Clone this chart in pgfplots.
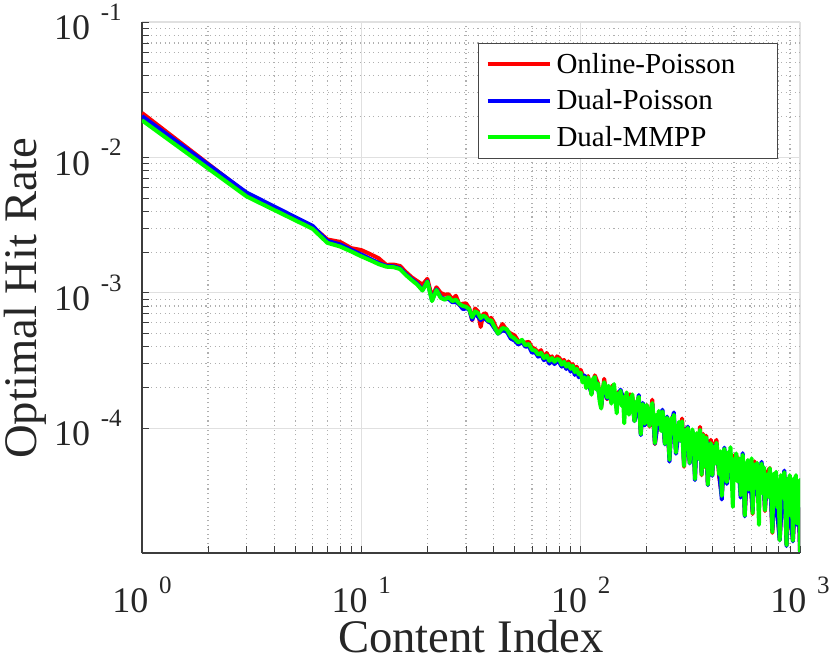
\documentclass[border=0pt]{standalone}
\usepackage{fontspec}
\setmainfont{Liberation Serif}
\usepackage{pgfplots}
\usepackage{pgfplotstable}
\pgfplotsset{compat=1.18}
\definecolor{axcol}{RGB}{60,60,60}
\definecolor{txtcol}{RGB}{38,38,38}
\definecolor{gridmaj}{RGB}{224,224,224}
\definecolor{gridmin}{RGB}{175,175,175}
\definecolor{legcol}{RGB}{70,70,70}
\definecolor{cR}{RGB}{255,0,0}
\definecolor{cB}{RGB}{0,0,255}
\definecolor{cG}{RGB}{0,255,0}
\newcommand{\tl}[1]{10\hspace{0.3em}\raisebox{0.53em}{\fontsize{18.75pt}{20pt}\selectfont #1}}
\newcommand{\legtxt}[1]{\makebox[160.5pt][l]{#1}}

% Online-Poisson (r) and Dual-Poisson (b)
\pgfplotstableread{
x r b
1 2.13e-2 2.02e-2
3 5.42e-3 5.50e-3
6 3.08e-3 3.12e-3
7 2.48e-3 2.42e-3
8 2.38e-3 2.28e-3
9 2.14e-3 2.08e-3
10 2.07e-3 1.92e-3
11 1.93e-3 1.78e-3
12 1.80e-3 1.66e-3
13 1.61e-3 1.58e-3
14 1.62e-3 1.57e-3
15 1.58e-3 1.52e-3
16 1.42e-3 1.37e-3
17 1.30e-3 1.26e-3
18 1.22e-3 1.17e-3
19 1.15e-3 1.05e-3
20 1.27e-3 1.22e-3
21 9.30e-4 8.80e-4
22 1.10e-3 1.06e-3
23 1.00e-3 9.30e-4
24 9.70e-4 9.00e-4
25 9.77e-4 9.02e-4
26 8.96e-4 8.53e-4
27 9.52e-4 8.54e-4
28 8.13e-4 8.22e-4
29 8.32e-4 7.60e-4
30 8.37e-4 7.66e-4
31 7.75e-4 7.60e-4
32 6.27e-4 6.34e-4
33 7.67e-4 7.15e-4
34 7.31e-4 6.67e-4
35 5.60e-4 6.30e-4
36 7.00e-4 6.60e-4
37 7.06e-4 6.34e-4
38 6.08e-4 6.14e-4
39 6.55e-4 5.99e-4
40 6.15e-4 5.63e-4
42 5.10e-4 5.00e-4
44 5.89e-4 5.28e-4
46 5.30e-4 5.20e-4
48 5.00e-4 4.60e-4
50 4.85e-4 4.45e-4
52 4.40e-4 4.15e-4
54 4.30e-4 4.35e-4
56 4.30e-4 4.00e-4
58 4.35e-4 4.05e-4
60 3.95e-4 3.62e-4
62 3.85e-4 3.65e-4
64 3.62e-4 3.38e-4
66 3.78e-4 3.50e-4
68 3.25e-4 3.18e-4
70 3.60e-4 3.35e-4
72 3.30e-4 3.00e-4
74 3.40e-4 3.20e-4
76 3.00e-4 2.98e-4
78 3.40e-4 3.15e-4
80 3.30e-4 3.05e-4
82 3.10e-4 2.85e-4
84 3.20e-4 3.00e-4
86 2.78e-4 2.74e-4
88 3.12e-4 2.90e-4
90 2.90e-4 2.62e-4
92 2.98e-4 2.80e-4
94 2.70e-4 2.48e-4
96 2.85e-4 2.68e-4
98 2.58e-4 2.38e-4
100 2.70e-4 2.47e-4
104 2.28e-4 2.45e-4
108 2.43e-4 2.24e-4
112 1.80e-4 1.81e-4
116 2.46e-4 2.32e-4
120 2.14e-4 1.97e-4
124 1.42e-4 1.46e-4
128 2.32e-4 2.15e-4
132 1.64e-4 1.66e-4
136 1.83e-4 1.81e-4
140 2.08e-4 1.90e-4
144 1.56e-4 1.68e-4
148 1.85e-4 1.70e-4
152 1.66e-4 1.93e-4
156 1.76e-4 1.66e-4
160 1.60e-4 1.47e-4
164 1.39e-4 1.55e-4
168 1.78e-4 1.65e-4
172 1.73e-4 1.62e-4
176 1.14e-4 1.13e-4
180 1.43e-4 1.31e-4
184 1.64e-4 1.76e-4
188 0.923e-4 0.890e-4
192 1.50e-4 1.54e-4
196 1.11e-4 1.05e-4
200 1.485e-4 1.366e-4
206 1.030e-4 1.084e-4
212 1.627e-4 1.504e-4
218 0.765e-4 0.770e-4
224 1.083e-4 1.072e-4
230 1.238e-4 1.132e-4
236 1.280e-4 1.373e-4
242 0.781e-4 0.760e-4
248 1.053e-4 1.221e-4
254 0.603e-4 0.567e-4
260 1.192e-4 1.097e-4
266 1.172e-4 1.310e-4
272 0.702e-4 0.649e-4
278 0.932e-4 0.875e-4
284 0.819e-4 0.811e-4
290 1.183e-4 1.082e-4
296 0.520e-4 0.542e-4
302 0.999e-4 0.920e-4
308 0.889e-4 1.030e-4
314 0.572e-4 0.550e-4
320 0.807e-4 0.742e-4
326 0.834e-4 0.933e-4
332 0.447e-4 0.414e-4
338 0.892e-4 0.837e-4
344 0.603e-4 0.597e-4
350 1.026e-4 0.938e-4
356 0.450e-4 0.468e-4
362 0.910e-4 0.838e-4
368 0.520e-4 0.533e-4
374 0.882e-4 0.830e-4
380 0.384e-4 0.380e-4
386 0.689e-4 0.771e-4
392 0.823e-4 0.760e-4
398 0.450e-4 0.445e-4
404 7.39e-5 7.32e-5
416 8.21e-5 7.51e-5
428 4.38e-5 4.70e-5
440 3.23e-5 2.98e-5
452 6.21e-5 7.20e-5
464 4.13e-5 3.89e-5
476 5.63e-5 5.18e-5
488 4.20e-5 4.70e-5
500 6.29e-5 5.81e-5
512 6.33e-5 5.94e-5
524 5.52e-5 5.47e-5
536 3.37e-5 3.08e-5
548 6.12e-5 6.56e-5
560 2.32e-5 2.24e-5
572 4.39e-5 5.09e-5
584 3.64e-5 3.42e-5
596 4.23e-5 3.89e-5
608 2.33e-5 2.45e-5
620 5.71e-5 5.28e-5
632 4.26e-5 4.00e-5
644 3.07e-5 3.04e-5
656 5.17e-5 4.72e-5
668 5.27e-5 5.65e-5
680 4.74e-5 4.37e-5
692 2.45e-5 2.53e-5
708 4.71e-5 4.43e-5
728 5.08e-5 4.67e-5
748 1.69e-5 1.78e-5
768 3.57e-5 3.30e-5
788 2.52e-5 2.37e-5
808 1.50e-5 1.49e-5
828 3.21e-5 2.94e-5
848 4.55e-5 4.88e-5
868 1.40e-5 1.35e-5
888 2.87e-5 3.33e-5
908 2.32e-5 2.18e-5
928 1.48e-5 1.46e-5
948 2.81e-5 3.14e-5
968 2.10e-5 1.94e-5
988 2.55e-5 2.58e-5
1000 1.23e-5 1.22e-5
}\rbtable

% Dual-MMPP (g)
\pgfplotstableread{
x g
1 1.88e-2
3 5.15e-3
6 2.97e-3
7 2.34e-3
8 2.20e-3
9 2.02e-3
10 1.86e-3
11 1.74e-3
12 1.63e-3
13 1.56e-3
14 1.55e-3
15 1.50e-3
16 1.35e-3
17 1.24e-3
18 1.15e-3
19 1.04e-3
20 1.21e-3
21 8.70e-4
22 1.05e-3
23 9.20e-4
24 8.90e-4
25 9.30e-4
26 8.70e-4
27 8.90e-4
28 8.30e-4
29 8.00e-4
30 7.90e-4
31 7.60e-4
32 6.60e-4
33 7.30e-4
34 7.10e-4
35 6.50e-4
36 6.80e-4
37 6.60e-4
38 6.20e-4
39 6.30e-4
40 5.80e-4
42 5.00e-4
44 5.50e-4
46 5.40e-4
48 4.80e-4
50 4.60e-4
52 4.30e-4
54 4.50e-4
56 4.10e-4
58 4.20e-4
60 3.80e-4
62 3.75e-4
64 3.50e-4
66 3.60e-4
68 3.30e-4
70 3.45e-4
72 3.15e-4
74 3.30e-4
76 3.10e-4
78 3.25e-4
80 3.20e-4
82 2.95e-4
84 3.10e-4
86 2.85e-4
88 3.00e-4
90 2.75e-4
92 2.90e-4
94 2.60e-4
96 2.75e-4
98 2.50e-4
100 2.57e-4
102 2.18e-4
104 2.38e-4
106 1.98e-4
108 2.38e-4
110 2.18e-4
112 1.77e-4
114 2.32e-4
116 2.39e-4
118 1.93e-4
120 2.14e-4
122 1.59e-4
124 1.40e-4
126 1.96e-4
128 2.19e-4
130 2.01e-4
132 1.69e-4
134 2.06e-4
136 1.81e-4
138 1.52e-4
140 1.98e-4
142 2.12e-4
144 1.63e-4
146 1.29e-4
148 1.81e-4
150 1.65e-4
152 1.89e-4
154 1.46e-4
156 1.71e-4
158 1.09e-4
160 1.60e-4
162 1.84e-4
164 1.49e-4
166 1.26e-4
168 1.68e-4
170 1.53e-4
172 1.78e-4
174 1.30e-4
176 1.13e-4
178 1.56e-4
180 1.36e-4
182 1.61e-4
184 1.71e-4
186 1.19e-4
188 0.905e-4
190 1.41e-4
192 1.51e-4
194 1.24e-4
196 1.08e-4
198 1.44e-4
200 1.485e-4
203 1.238e-4
206 1.042e-4
209 1.365e-4
212 1.535e-4
215 1.215e-4
218 0.776e-4
221 1.253e-4
224 1.072e-4
227 1.343e-4
230 1.179e-4
233 0.953e-4
236 1.333e-4
239 1.189e-4
242 0.766e-4
245 1.060e-4
248 1.197e-4
251 0.937e-4
254 0.585e-4
257 1.073e-4
260 1.192e-4
263 0.955e-4
266 1.260e-4
269 0.808e-4
272 0.662e-4
275 1.051e-4
278 0.961e-4
281 1.118e-4
284 0.811e-4
287 0.998e-4
290 1.127e-4
293 0.701e-4
296 0.526e-4
299 0.906e-4
302 0.979e-4
305 0.806e-4
308 1.010e-4
311 0.680e-4
314 0.555e-4
317 0.883e-4
320 0.807e-4
323 0.982e-4
326 0.897e-4
329 0.671e-4
332 0.422e-4
335 0.817e-4
338 0.920e-4
341 0.702e-4
344 0.597e-4
347 0.833e-4
350 0.977e-4
353 0.722e-4
356 0.454e-4
359 0.779e-4
362 0.892e-4
365 0.638e-4
368 0.523e-4
371 0.795e-4
374 0.856e-4
377 0.659e-4
380 0.384e-4
383 0.697e-4
386 0.741e-4
389 0.559e-4
392 0.776e-4
395 0.660e-4
398 0.452e-4
404 7.32e-5
410 5.48e-5
416 7.82e-5
422 6.32e-5
428 4.56e-5
434 6.77e-5
440 3.17e-5
446 6.27e-5
452 7.06e-5
458 5.30e-5
464 4.01e-5
470 6.63e-5
476 5.63e-5
482 7.25e-5
488 4.52e-5
494 2.63e-5
500 5.93e-5
506 5.10e-5
512 6.53e-5
518 4.06e-5
524 5.47e-5
530 5.98e-5
536 3.21e-5
542 4.96e-5
548 6.37e-5
554 4.33e-5
560 2.27e-5
566 5.51e-5
572 4.99e-5
578 5.83e-5
584 3.53e-5
590 5.18e-5
596 4.23e-5
602 6.01e-5
608 2.36e-5
614 4.93e-5
620 5.39e-5
626 3.64e-5
632 4.39e-5
638 5.56e-5
644 3.04e-5
650 1.94e-5
656 4.92e-5
662 4.15e-5
668 5.49e-5
674 3.31e-5
680 4.65e-5
686 5.14e-5
692 2.48e-5
698 4.31e-5
708 4.57e-5
718 3.12e-5
728 5.08e-5
738 3.71e-5
748 1.71e-5
758 4.61e-5
768 3.37e-5
778 4.77e-5
788 2.60e-5
798 4.12e-5
808 1.49e-5
818 4.51e-5
828 3.06e-5
838 3.87e-5
848 4.74e-5
858 2.66e-5
868 1.37e-5
878 4.23e-5
888 3.26e-5
898 4.51e-5
908 2.25e-5
918 3.85e-5
928 1.48e-5
938 4.27e-5
948 3.02e-5
958 4.51e-5
968 1.98e-5
978 3.87e-5
988 2.63e-5
998 4.15e-5
1000 1.22e-5
}\gtable

\begin{document}
\begin{tikzpicture}
\begin{axis}[
  at={(0pt,0pt)}, anchor=south west,
  scale only axis, width=493.5pt, height=398.25pt,
  xmode=log, ymode=log,
  xmin=1, xmax=1000, ymin=1.2e-5, ymax=0.1,
  axis lines*=left,
  axis line style={-, draw=axcol, line width=0.9pt},
  tick align=inside,
  major tick length=5pt, minor tick length=5pt,
  every tick/.style={draw=axcol, line width=0.7pt},
  grid=both,
  major grid style={draw=gridmaj, line width=0.9pt},
  minor grid style={draw=gridmin, line width=0.8pt, dash pattern=on 0.8pt off 2.6pt},
  xtick={1,10,100,1000}, xticklabels={\tl{0},\tl{1},\tl{2},\tl{3}},
  ytick={1e-4,1e-3,1e-2,1e-1}, yticklabels={\tl{-4},\tl{-3},\tl{-2},\tl{-1}},
  ticklabel style={font=\fontsize{27pt}{30pt}\selectfont, text=txtcol},
  xticklabel style={anchor=north, inner sep=0pt, yshift=-17.8pt},
  yticklabel style={anchor=east, inner sep=0pt, xshift=-15pt},
  xlabel={Content Index}, ylabel={Optimal Hit Rate},
  label style={font=\fontsize{35pt}{38pt}\selectfont, text=txtcol, inner sep=0pt},
  xlabel style={at={(axis description cs:0.5,-0.187)}, anchor=base},
  ylabel style={at={(axis description cs:-0.161,0.48)}, anchor=base},
  legend style={at={(axis description cs:0.9666,0.961)}, anchor=north east,
    draw=legcol, line width=0.75pt, fill=white,
    font=\fontsize{21.75pt}{24pt}\selectfont,
    inner xsep=5.25pt, inner ysep=1.9pt, row sep=0pt, column sep=3.75pt,
    nodes={inner sep=0pt}},
  legend cell align=left,
  legend image code/.code={%
    \path[draw=none, fill=none] (0pt,-13.75pt) -- (0pt,13.75pt);
    \draw[#1, line width=3pt] (0pt,0pt) -- (46.5pt,0pt);},
  line join=round,
]
\addplot[cR, line width=3pt] table[x=x, y=r] {\rbtable};
\addlegendentry{\legtxt{Online-Poisson}}
\addplot[cB, line width=3pt] table[x=x, y=b] {\rbtable};
\addlegendentry{\legtxt{Dual-Poisson}}
\addplot[cG, line width=3pt] table[x=x, y=g] {\gtable};
\addlegendentry{\legtxt{Dual-MMPP}}
\end{axis}
\pgfresetboundingbox
\path[use as bounding box] (-106.5pt,-81.75pt) rectangle (516pt,414.75pt);
\end{tikzpicture}
\end{document}
